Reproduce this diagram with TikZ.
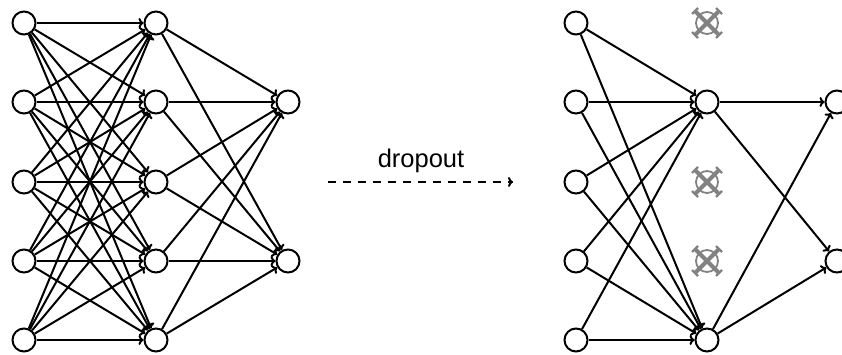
\documentclass[tikz,border=0pt]{standalone}
\usepackage{fontspec}
\setmainfont{Liberation Sans}
\usetikzlibrary{arrows.meta}
\definecolor{dropgray}{RGB}{130,130,130}
\begin{document}
\begin{tikzpicture}[x=1pt,y=-1pt,
  neuron/.style={circle,draw,line width=2pt,minimum size=23pt,inner sep=0pt},
  dropped/.style={circle,draw=dropgray,line width=1.8pt,minimum size=22pt,inner sep=0pt},
  xmark/.style={draw=dropgray,line width=4pt,line cap=butt},
  xend/.style={draw=dropgray,line width=2.2pt,line cap=butt},
  link/.style={line width=2pt,-{To[length=5pt,width=10pt]}},
  shift arrow/.style={line width=2pt,dash pattern=on 8pt off 7pt,-{To[length=5pt,width=10pt]}},
  caption/.style={font=\fontsize{25.5}{30}\selectfont,inner sep=0pt}]
\useasboundingbox (0,0) rectangle (842,354);
\clip (0,0) rectangle (842,354);

% ---- full network ----
\foreach \i/\y in {1/23,2/102,3/182,4/261,5/340} {
  \node[neuron] (a\i) at (24,\y) {};
  \node[neuron] (b\i) at (156,\y) {};
}
\node[neuron] (c1) at (288,102) {};
\node[neuron] (c2) at (288,261) {};
\foreach \i in {1,...,5} {
  \foreach \j in {1,...,5} {
    \draw[link] (a\i) -- (b\j);
  }
  \draw[link] (b\i) -- (c1);
  \draw[link] (b\i) -- (c2);
}

% ---- transition ----
\node[caption,anchor=base] (lbl) at (421,167) {dropout};
\coordinate (ds) at (328,182);
\coordinate (de) at (513,182);
\draw[shift arrow] (ds) -- (de);

% ---- thinned network ----
\foreach \i/\y in {1/23,2/102,3/182,4/261,5/340} {
  \node[neuron] (p\i) at (576,\y) {};
}
\node[neuron] (q2) at (707,102) {};
\node[neuron] (q5) at (707,340) {};
% dropped units: grey ring crossed out, each stroke ending in a short bar
\foreach \i/\y in {1/23,3/182,4/261} {
  \node[dropped] (q\i) at (707,\y) {};
  \draw[xmark] ([shift={(-12,-12)}]q\i.center) -- ([shift={(12,12)}]q\i.center);
  \draw[xmark] ([shift={(-12,12)}]q\i.center) -- ([shift={(12,-12)}]q\i.center);
  \foreach \sx/\sy in {-12/-12,12/12,-12/12,12/-12} {
    \draw[xend] ([shift={(\sx-3*\sy/12,\sy+3*\sx/12)}]q\i.center)
             -- ([shift={(\sx+3*\sy/12,\sy-3*\sx/12)}]q\i.center);
  }
}
\node[neuron] (r1) at (837,102) {};
\node[neuron] (r2) at (837,261) {};
\foreach \i in {1,...,5} {
  \draw[link] (p\i) -- (q2);
  \draw[link] (p\i) -- (q5);
}
\foreach \h in {2,5} {
  \draw[link] (q\h) -- (r1);
  \draw[link] (q\h) -- (r2);
}
\end{tikzpicture}
\end{document}
